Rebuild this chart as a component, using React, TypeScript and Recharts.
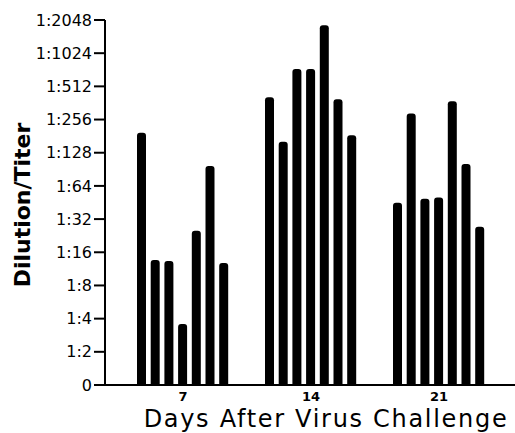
import React from 'react';
import { BarChart, Bar, XAxis, YAxis, Label } from 'recharts';

// titer levels as log2 steps: 0 -> "0", 1 -> 1:2, ... 11 -> 1:2048
const days = ['7', '14', '21'];
const day7 = [7.6, 3.77, 3.74, 1.84, 4.65, 6.6, 3.68];
const day14 = [8.67, 7.33, 9.52, 9.52, 10.84, 8.61, 7.53];
const day21 = [5.49, 8.18, 5.61, 5.65, 8.55, 6.66, 4.77];
const levelTicks = [0, 1, 2, 3, 4, 5, 6, 7, 8, 9, 10, 11];

const groups = [day7, day14, day21];
const data = days.map((d, i) => {
    const row: any = { day: d };
    groups[i].forEach((v, j) => { row['b' + j] = v; });
    return row;
});
const seriesKeys = day7.map((_, j) => 'b' + j);

const FONT = '"DejaVu Sans", sans-serif';

const fmtTiter = (v: number) => (v === 0 ? '0' : `1:${Math.pow(2, v)}`);

export default function App() {
    return (
        <div style={{ position: 'absolute', left: 0, top: 0, background: '#fff' }}>
            <BarChart
                width={515}
                height={433}
                data={data}
                margin={{ top: 20, right: 0, left: 0, bottom: 0 }}
                barSize={9}
                barGap={4.7}
            >
                <XAxis
                    dataKey="day"
                    height={48}
                    padding={{ left: 14, right: 12 }}
                    axisLine={{ stroke: '#000', strokeWidth: 2 }}
                    tickLine={false}
                    tickSize={0}
                    tickMargin={7}
                    tick={{ fill: '#000', fontSize: 13, fontFamily: FONT, fontWeight: 'bold' }}
                >
                    <Label
                        content={() => (
                            <text x={326} y={427} textAnchor="middle" fontSize={24} letterSpacing={1.7} fontFamily={FONT} fill="#000">
                                Days After Virus Challenge
                            </text>
                        )}
                    />
                </XAxis>
                <YAxis
                    type="number"
                    domain={[0, 11]}
                    ticks={levelTicks}
                    interval={0}
                    width={105}
                    tickFormatter={fmtTiter}
                    axisLine={{ stroke: '#000', strokeWidth: 2 }}
                    tickLine={{ stroke: '#000', strokeWidth: 2 }}
                    tickSize={11}
                    tickMargin={2}
                    tick={{ fill: '#000', fontSize: 16, fontFamily: FONT }}
                >
                    <Label
                        content={() => (
                            <text
                                x={22}
                                y={205}
                                transform="rotate(-90, 22, 205)"
                                textAnchor="middle"
                                dominantBaseline="central"
                                fontSize={22}
                                fontWeight="bold"
                                fontFamily={FONT}
                                fill="#000"
                            >
                                Dilution/Titer
                            </text>
                        )}
                    />
                </YAxis>
                {seriesKeys.map(k => (
                    <Bar key={k} dataKey={k} fill="#000" radius={[3, 3, 0, 0]} isAnimationActive={false} />
                ))}
            </BarChart>
        </div>
    );
}
